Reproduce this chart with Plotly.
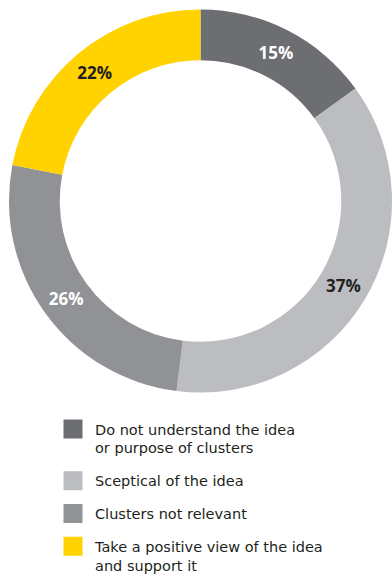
import plotly.graph_objects as go

categories = [
    "Do not understand the idea<br>or purpose of clusters",
    "Sceptical of the idea",
    "Clusters not relevant",
    "Take a positive view of the idea<br>and support it",
]
values = [15, 37, 26, 22]
colors = ["#6d6e71", "#bcbdc0", "#919295", "#ffd200"]
label_colors = ["#ffffff", "#231f20", "#ffffff", "#231f20"]
text_labels = [f"{v}%" for v in values]

W, H = 392, 581
x0, x1 = 9, 392
d = x1 - x0
cy = 201

fig = go.Figure()
fig.add_trace(go.Pie(
    labels=categories,
    values=values,
    text=text_labels,
    textinfo="text",
    textposition="inside",
    insidetextorientation="horizontal",
    textfont=dict(family="Open Sans", size=17, color=label_colors, weight="bold"),
    marker=dict(colors=colors, line=dict(width=0)),
    hole=0.735,
    sort=False,
    direction="clockwise",
    rotation=0,
    showlegend=False,
    domain=dict(x=[x0 / W, x1 / W], y=[(H - cy - d / 2) / H, (H - cy + d / 2) / H]),
))

for i, (name, col) in enumerate(zip(categories, colors)):
    fig.add_trace(go.Scatter(
        x=[None], y=[None], mode="markers", name=name,
        legendgroup=f"g{i}",
        marker=dict(symbol="square", size=16, color=col, line=dict(width=3, color=col)),
        showlegend=True,
    ))

fig.update_layout(
    width=W, height=H,
    margin=dict(l=0, r=0, t=0, b=0, autoexpand=False),
    paper_bgcolor="white", plot_bgcolor="white",
    xaxis=dict(visible=False, domain=[0, 0.01]),
    yaxis=dict(visible=False, domain=[0, 0.01]),
    showlegend=True,
    legend=dict(
        x=51 / W, y=1 - 413 / H, xanchor="left", yanchor="top",
        font=dict(family="DejaVu Sans", size=14.5, color="#231f20"),
        valign="top", tracegroupgap=11, itemsizing="trace", itemwidth=34,
        bgcolor="rgba(0,0,0,0)",
    ),
)

fig.write_html(
    "out.html",
    config={"displayModeBar": False},
    post_script="document.body.style.margin='0';document.body.style.padding='0';",
)
